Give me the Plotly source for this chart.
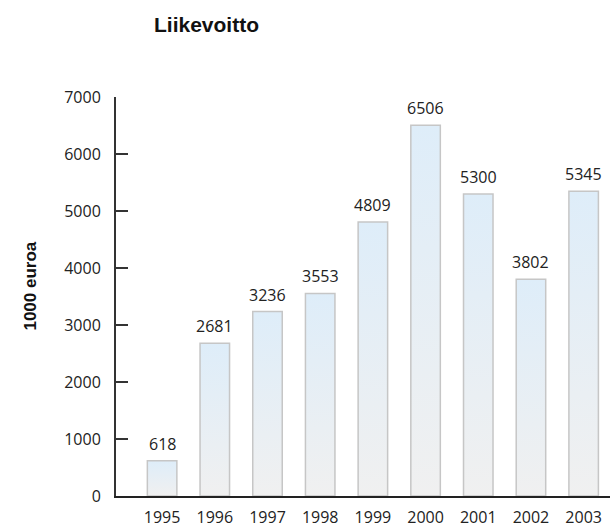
import plotly.graph_objects as go

years = ["1995", "1996", "1997", "1998", "1999", "2000", "2001", "2002", "2003"]
values = [618, 2681, 3236, 3553, 4809, 6506, 5300, 3802, 5345]
y_ticks = [0, 1000, 2000, 3000, 4000, 5000, 6000, 7000]

FONT = "Open Sans"
half = 0.28
idx = list(range(len(years)))

fig = go.Figure()
for i, v in zip(idx, values):
    fig.add_trace(go.Scatter(
        x=[i - half, i + half, i + half, i - half, i - half],
        y=[0, 0, v, v, 0],
        mode="lines", fill="toself",
        fillgradient=dict(type="vertical",
                          colorscale=[[0, "#f0f0f0"], [1, "#deedf9"]]),
        line=dict(color="#c6c6c6", width=1.5),
        hoverinfo="skip", showlegend=False,
    ))
    fig.add_annotation(
        x=i, y=v, text=str(v), showarrow=False, xref="x", yref="y",
        yanchor="bottom", yshift=4,
        font=dict(family=FONT, size=16, color="#222"),
    )

fig.add_annotation(
    text="<b>1000 euroa</b>", textangle=-90, xref="paper", yref="paper",
    x=(31 - 116) / 494, y=(498 - 287.5) / 401, xanchor="center", yanchor="middle",
    showarrow=False, font=dict(family="Liberation Sans", size=17, color="#111"),
)

fig.update_layout(
    width=610, height=528,
    margin=dict(l=116, r=0, t=97, b=30),
    paper_bgcolor="white", plot_bgcolor="white",
    title=dict(text="<b>Liikevoitto</b>", x=154/610, xanchor="left",
               y=1 - 25/528, yanchor="middle", yref="container",
               font=dict(family="Liberation Sans", size=21, color="#111")),
    font=dict(family=FONT, size=16, color="#222"),
)
fig.update_xaxes(
    range=[-0.875, 8.5], tickvals=idx, ticktext=years,
    showgrid=False, zeroline=False, showline=True, linecolor="#222", linewidth=2,
    ticks="", ticklabelstandoff=6, tickfont=dict(family=FONT, size=16, color="#222"),
)
fig.update_yaxes(
    range=[0, 7000], tickvals=y_ticks,
    showgrid=False, zeroline=False, showline=True, linecolor="#333", linewidth=2,
    ticks="inside", ticklen=12, tickcolor="#333", tickwidth=2,
    ticklabelstandoff=10, tickfont=dict(family=FONT, size=16, color="#222"),
)

fig.write_html(
    "out.html",
    config={"displayModeBar": False},
    post_script="document.body.style.margin='0px';document.body.style.overflow='hidden';",
)
